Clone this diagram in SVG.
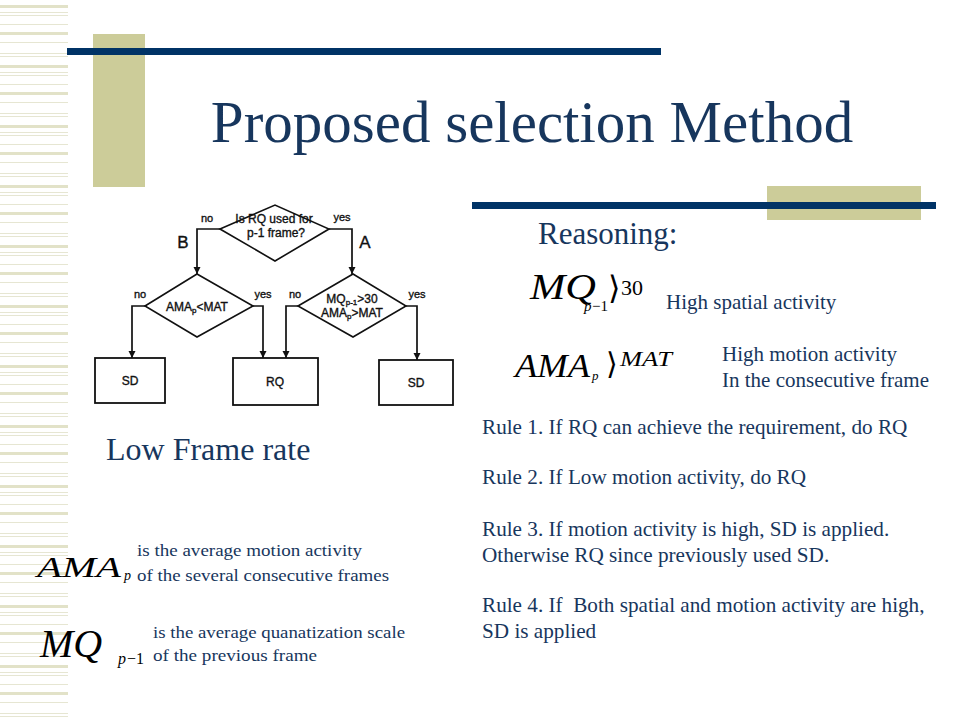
<svg xmlns="http://www.w3.org/2000/svg" width="960" height="720" viewBox="0 0 960 720">
<style>
.navy{fill:#003366}
.khaki{fill:#cccc99}
.t{font-family:"Liberation Serif",serif;fill:#17365d}
.m{font-family:"Liberation Serif",serif;fill:#000}
.br{font-family:"DejaVu Sans","DejaVu Serif",serif;fill:#000;font-weight:200}
.i{font-style:italic}
.fc{font-family:"Liberation Sans",Arial,sans-serif;fill:#111;stroke:#111;stroke-width:0.35}
.box{fill:#fff;stroke:#111;stroke-width:1.8}
.dia{fill:#fff;stroke:#111;stroke-width:1.6}
.con{fill:none;stroke:#111;stroke-width:1.7}
</style>
<defs>
<marker id="arr" viewBox="0 0 10 10" refX="10" refY="5" markerWidth="7" markerHeight="8" markerUnits="userSpaceOnUse" orient="auto">
<path d="M0,0 L10,5 L0,10 z" fill="#111"/>
</marker>
<pattern id="stripes" x="0" y="0" width="68" height="60" patternUnits="userSpaceOnUse">
<rect x="0" y="5" width="68" height="3" fill="#e2e2c8"/>
<rect x="0" y="12" width="68" height="1" fill="#e6e6d2"/>
<rect x="0" y="15" width="68" height="1" fill="#e6e6d2"/>
<rect x="0" y="24" width="68" height="1" fill="#e6e6d2"/>
<rect x="0" y="32" width="68" height="3" fill="#e2e2c8"/>
<rect x="0" y="42" width="68" height="1" fill="#e6e6d2"/>
<rect x="0" y="53" width="68" height="1" fill="#e6e6d2"/>
<rect x="0" y="56" width="68" height="1" fill="#e6e6d2"/>
</pattern>
</defs>
<rect width="960" height="720" fill="#fff"/>
<g id="background">
<rect x="0" y="0" width="68" height="720" fill="url(#stripes)"/>
<rect x="93" y="34" width="52" height="153" class="khaki"/>
<rect x="67" y="48" width="594" height="7" class="navy"/>
<rect x="767" y="186" width="154" height="34" class="khaki"/>
<rect x="472" y="202" width="464" height="7" class="navy"/>
</g>
<g id="title">
<text x="532" y="142" class="t" style="font-size:59px" text-anchor="middle">Proposed selection Method</text>
</g>
<g id="connectors">
<path class="con" d="M220,229 H197 V274" marker-end="url(#arr)"/>
<path class="con" d="M329,229 H352 V274" marker-end="url(#arr)"/>
<path class="con" d="M145,306 H132 V358" marker-end="url(#arr)"/>
<path class="con" d="M253,306 H263 V358" marker-end="url(#arr)"/>
<path class="con" d="M298,306 H286 V358" marker-end="url(#arr)"/>
<path class="con" d="M406,306 H417 V360" marker-end="url(#arr)"/>
</g>
<g id="node-q1">
<polygon class="dia" points="220,229 275,205 329,229 275,261"/>
<text class="fc" x="274" y="223" text-anchor="middle" style="font-size:12px">Is RQ used for</text>
<text class="fc" x="276" y="237" text-anchor="middle" style="font-size:12px">p-1 frame?</text>
</g>
<g id="node-q2">
<polygon class="dia" points="145,306 197,274 253,306 197,337"/>
<text class="fc" x="197" y="311" text-anchor="middle" style="font-size:12px">AMA<tspan style="font-size:8px" dy="2">p</tspan><tspan dy="-2">&lt;MAT</tspan></text>
</g>
<g id="node-q3">
<polygon class="dia" points="298,306 353,274 406,306 353,337"/>
<text class="fc" x="352" y="303" text-anchor="middle" style="font-size:12px">MQ<tspan style="font-size:8px" dy="2">p-1</tspan><tspan dy="-2">&gt;30</tspan></text>
<text class="fc" x="352" y="317" text-anchor="middle" style="font-size:12px">AMA<tspan style="font-size:8px" dy="2">p</tspan><tspan dy="-2">&gt;MAT</tspan></text>
</g>
<g id="node-sd1">
<rect class="box" x="95" y="358" width="70" height="45"/>
<text class="fc" x="130" y="385" text-anchor="middle" style="font-size:12px">SD</text>
</g>
<g id="node-rq">
<rect class="box" x="233" y="358" width="85" height="47"/>
<text class="fc" x="275" y="386" text-anchor="middle" style="font-size:12px">RQ</text>
</g>
<g id="node-sd2">
<rect class="box" x="379" y="360" width="74" height="45"/>
<text class="fc" x="416" y="387" text-anchor="middle" style="font-size:12px">SD</text>
</g>
<g id="flow-labels">
<text class="fc" x="207" y="222" text-anchor="middle" style="font-size:11px">no</text>
<text class="fc" x="342" y="221" text-anchor="middle" style="font-size:11px">yes</text>
<text class="fc" x="183" y="248" text-anchor="middle" style="font-size:17px">B</text>
<text class="fc" x="365" y="248" text-anchor="middle" style="font-size:17px">A</text>
<text class="fc" x="140" y="298" text-anchor="middle" style="font-size:11px">no</text>
<text class="fc" x="263" y="298" text-anchor="middle" style="font-size:11px">yes</text>
<text class="fc" x="295" y="298" text-anchor="middle" style="font-size:11px">no</text>
<text class="fc" x="417" y="298" text-anchor="middle" style="font-size:11px">yes</text>
</g>
<g id="texts">
<text class="t" x="106" y="460" style="font-size:32px">Low Frame rate</text>
<text class="t" x="538" y="244" style="font-size:31px">Reasoning:</text>
<text class="t" x="666" y="309" style="font-size:21px">High spatial activity</text>
<text class="t" x="722" y="361" style="font-size:21px">High motion activity</text>
<text class="t" x="722" y="387" style="font-size:21px">In the consecutive frame</text>
<text class="t" x="482" y="434" style="font-size:21.2px">Rule 1. If RQ can achieve the requirement, do RQ</text>
<text class="t" x="482" y="484" style="font-size:21.2px">Rule 2. If Low motion activity, do RQ</text>
<text class="t" x="482" y="536" style="font-size:21.2px">Rule 3. If motion activity is high, SD is applied.</text>
<text class="t" x="482" y="562" style="font-size:21.2px">Otherwise RQ since previously used SD.</text>
<text class="t" x="482" y="612" style="font-size:21.2px" xml:space="preserve">Rule 4. If  Both spatial and motion activity are high,</text>
<text class="t" x="482" y="638" style="font-size:21.2px">SD is applied</text>
<text class="t" x="137" y="556" style="font-size:16px" textLength="225" lengthAdjust="spacingAndGlyphs">is the average motion activity</text>
<text class="t" x="137" y="581" style="font-size:16px" textLength="252" lengthAdjust="spacingAndGlyphs">of the several consecutive frames</text>
<text class="t" x="153" y="638" style="font-size:16px" textLength="252" lengthAdjust="spacingAndGlyphs">is the average quanatization scale</text>
<text class="t" x="153" y="661" style="font-size:16px" textLength="164" lengthAdjust="spacingAndGlyphs">of the previous frame</text>
</g>
<g id="formulas">
<text class="m i" x="530" y="299" style="font-size:36px" textLength="66" lengthAdjust="spacingAndGlyphs">MQ</text>
<text class="m i" x="584" y="311" style="font-size:15px">p</text>
<text class="m" x="592" y="311" style="font-size:15px">−1</text>
<text class="br" x="608" y="299" style="font-size:32px">⟩</text>
<text class="m" x="621" y="295" style="font-size:22px">30</text>
<text class="m i" x="515" y="377" style="font-size:34px" textLength="75" lengthAdjust="spacingAndGlyphs">AMA</text>
<text class="m i" x="592" y="380" style="font-size:13px">p</text>
<text class="br" x="606" y="374" style="font-size:30px">⟩</text>
<text class="m i" x="620" y="366" style="font-size:21px" textLength="52" lengthAdjust="spacingAndGlyphs">MAT</text>
<text class="m i" x="37" y="577" style="font-size:30px" textLength="84" lengthAdjust="spacingAndGlyphs">AMA</text>
<text class="m i" x="124" y="580" style="font-size:14px">p</text>
<text class="m i" x="40" y="657" style="font-size:40px">MQ</text>
<text class="m i" x="118" y="664" style="font-size:16px">p</text>
<text class="m" x="127" y="664" style="font-size:16px">−1</text>
</g>
</svg>
